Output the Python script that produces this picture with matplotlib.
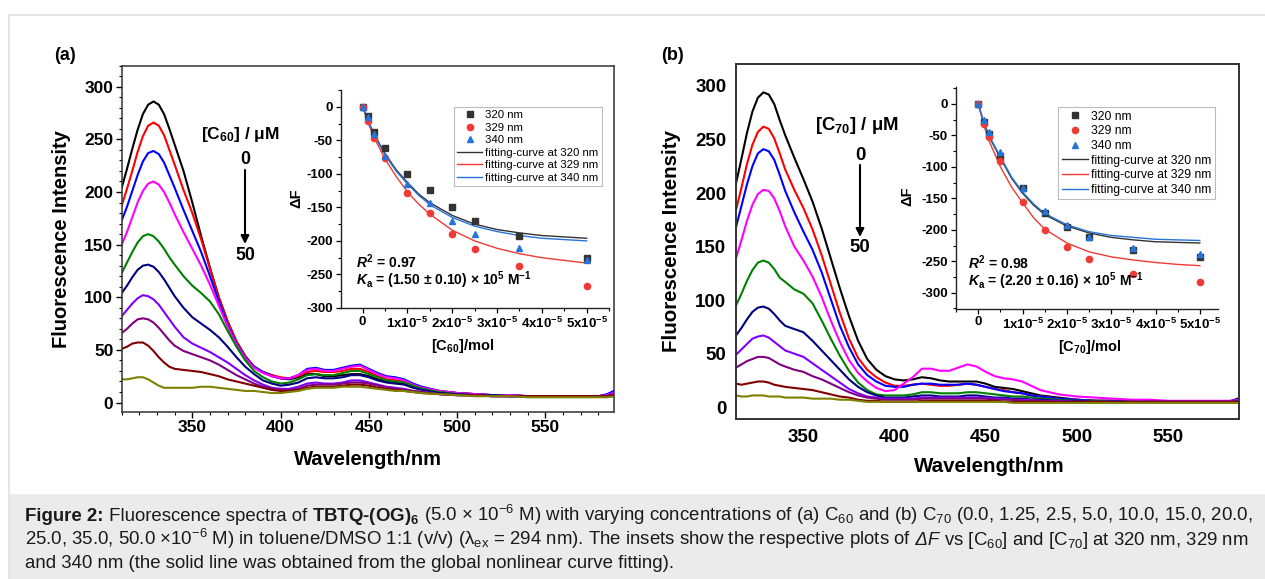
import matplotlib
matplotlib.use("Agg")
import matplotlib.pyplot as plt
from matplotlib.ticker import MultipleLocator
from matplotlib.patches import Rectangle
from matplotlib.lines import Line2D

plt.rcParams['font.family'] = ['Liberation Sans', 'DejaVu Sans']
plt.rcParams['axes.unicode_minus'] = False
plt.rcParams['mathtext.fontset'] = 'custom'
plt.rcParams['mathtext.rm'] = 'Liberation Sans:bold'
plt.rcParams['mathtext.bf'] = 'Liberation Sans:bold'
plt.rcParams['mathtext.it'] = 'Liberation Sans:italic:bold'

# ---------------- data ----------------
wavelength = [310, 313, 316, 319, 322, 325, 328, 331, 334, 337, 340, 345, 350, 355, 360, 365,
              370, 375, 380, 385, 390, 395, 400, 405, 410, 415, 420, 425, 430, 435, 440, 445,
              450, 455, 460, 465, 470, 475, 480, 490, 500, 510, 520, 530, 540, 550, 560, 570,
              580, 585, 590]

concentration_labels = ['0', '1.25', '2.5', '5.0', '10.0', '15.0', '20.0', '25.0', '35.0', '50.0']
curve_colors = ['#000000', '#ff0000', '#0000ff', '#ff00ff', '#008000', '#000080',
                '#8000ff', '#800080', '#800000', '#808000']

c60_0 = [204, 222, 241, 259, 274, 283, 286, 283, 274, 260, 245, 220, 190, 158, 128, 100, 77, 58, 44, 34, 29, 26, 23, 22, 24, 27, 27, 25, 25, 26, 27, 27, 25, 22, 20, 19, 18, 15, 13, 10, 9, 8, 7, 7, 6, 6, 6, 6, 6, 7, 9]
c60_1 = [187, 203, 220, 238, 253, 263, 266, 263, 254, 240, 226, 202, 180, 155, 127, 100, 77, 58, 44, 34, 29, 26, 24, 23, 25, 29, 30, 29, 29, 30, 32, 32, 29, 25, 22, 21, 20, 17, 14, 11, 9, 8, 7, 7, 6, 6, 6, 6, 6, 7, 9]
c60_2 = [173, 186, 201, 216, 229, 237, 239, 236, 228, 216, 204, 183, 163, 143, 120, 96, 74, 56, 43, 34, 29, 25, 23, 23, 26, 32, 33, 31, 31, 33, 35, 36, 32, 28, 25, 24, 22, 18, 15, 11, 9, 8, 7, 7, 6, 6, 6, 6, 6, 8, 12]
c60_3 = [150, 162, 176, 190, 201, 208, 210, 207, 200, 190, 179, 162, 146, 130, 112, 92, 72, 55, 42, 33, 28, 25, 23, 23, 26, 31, 32, 30, 30, 32, 34, 35, 31, 27, 24, 23, 21, 17, 14, 11, 9, 8, 7, 7, 6, 6, 6, 6, 6, 7, 10]
c60_4 = [123, 133, 143, 152, 158, 160, 158, 153, 146, 138, 131, 120, 111, 104, 96, 84, 68, 53, 40, 30, 24, 20, 18, 19, 22, 26, 27, 26, 26, 28, 30, 30, 27, 24, 21, 20, 19, 16, 13, 10, 8, 7, 7, 6, 6, 6, 6, 6, 6, 6, 8]
c60_5 = [104, 111, 119, 126, 130, 131, 129, 124, 117, 109, 101, 90, 81, 75, 69, 62, 53, 43, 34, 27, 21, 18, 16, 17, 19, 23, 24, 23, 23, 24, 26, 26, 24, 21, 19, 18, 17, 14, 12, 9, 8, 7, 7, 6, 6, 6, 6, 6, 6, 6, 8]
c60_6 = [82, 88, 94, 99, 102, 101, 98, 93, 86, 79, 72, 62, 56, 52, 48, 43, 38, 32, 26, 21, 17, 14, 13, 13, 15, 18, 19, 18, 18, 19, 21, 21, 19, 17, 15, 14, 13, 11, 10, 8, 7, 7, 6, 6, 6, 6, 6, 6, 6, 6, 7]
c60_7 = [66, 70, 75, 79, 80, 79, 76, 71, 65, 59, 54, 49, 46, 43, 40, 36, 31, 26, 22, 18, 15, 13, 12, 12, 13, 16, 17, 17, 17, 18, 19, 19, 18, 16, 14, 13, 12, 11, 10, 8, 7, 7, 6, 6, 6, 6, 6, 6, 6, 6, 7]
c60_8 = [51, 53, 56, 57, 57, 54, 49, 43, 38, 34, 32, 31, 30, 29, 27, 25, 22, 20, 18, 16, 14, 12, 11, 11, 12, 14, 15, 15, 15, 16, 17, 17, 16, 14, 13, 12, 11, 10, 9, 8, 7, 7, 6, 6, 6, 6, 6, 6, 6, 6, 7]
c60_9 = [22, 22, 23, 24, 24, 22, 19, 16, 14, 14, 14, 14, 14, 15, 15, 14, 13, 12, 11, 11, 10, 9, 9, 10, 11, 13, 14, 14, 14, 15, 15, 15, 14, 13, 12, 11, 11, 10, 9, 8, 7, 6, 6, 6, 5, 5, 5, 5, 5, 5, 6]

c70_0 = [200, 209, 232, 256, 276, 289, 294, 292, 283, 268, 254, 233, 213, 192, 167, 139, 111, 85, 62, 45, 35, 29, 26, 25, 26, 28, 27, 25, 24, 24, 24, 24, 22, 19, 18, 17, 15, 13, 11, 9, 7, 6, 6, 5, 5, 5, 5, 5, 5, 6, 9]
c70_1 = [178, 184, 205, 227, 245, 257, 262, 260, 251, 237, 222, 203, 186, 166, 142, 115, 88, 64, 46, 35, 28, 23, 20, 20, 21, 22, 21, 20, 20, 21, 22, 21, 19, 17, 16, 14, 13, 11, 10, 8, 7, 6, 6, 5, 5, 5, 5, 5, 5, 5, 7]
c70_2 = [162, 168, 188, 208, 225, 237, 241, 239, 231, 217, 202, 182, 164, 147, 126, 101, 76, 56, 40, 30, 24, 20, 19, 19, 21, 22, 22, 21, 21, 21, 22, 21, 19, 17, 15, 14, 13, 11, 10, 8, 7, 6, 6, 5, 5, 5, 5, 5, 5, 6, 8]
c70_3 = [133, 139, 156, 174, 189, 199, 203, 202, 195, 183, 169, 150, 137, 122, 103, 81, 61, 44, 32, 24, 18, 15, 16, 22, 28, 36, 36, 34, 34, 37, 40, 38, 33, 29, 27, 26, 24, 20, 16, 12, 10, 9, 8, 7, 7, 6, 6, 6, 6, 6, 7]
c70_4 = [90, 95, 106, 118, 128, 135, 137, 135, 129, 121, 117, 110, 106, 97, 81, 64, 48, 34, 23, 16, 12, 11, 11, 11, 12, 14, 14, 13, 13, 13, 14, 14, 13, 12, 11, 10, 10, 9, 8, 7, 6, 6, 5, 5, 5, 5, 5, 5, 5, 5, 6]
c70_5 = [64, 67, 74, 82, 89, 93, 94, 92, 87, 81, 76, 73, 70, 62, 53, 44, 35, 26, 19, 14, 11, 9, 9, 9, 10, 11, 11, 10, 10, 10, 11, 11, 10, 9, 9, 8, 8, 7, 7, 6, 6, 5, 5, 5, 5, 5, 5, 5, 5, 5, 6]
c70_6 = [47, 49, 54, 59, 64, 66, 67, 65, 61, 57, 53, 50, 47, 41, 35, 29, 23, 17, 13, 10, 9, 8, 8, 8, 8, 9, 9, 9, 9, 9, 9, 9, 9, 8, 8, 7, 7, 7, 6, 6, 5, 5, 5, 5, 5, 5, 5, 5, 5, 5, 6]
c70_7 = [36, 37, 40, 43, 45, 47, 47, 46, 43, 40, 38, 35, 33, 29, 26, 22, 18, 14, 11, 9, 8, 7, 7, 7, 7, 8, 8, 8, 8, 8, 8, 8, 8, 7, 7, 7, 6, 6, 6, 5, 5, 5, 5, 5, 5, 5, 5, 5, 5, 5, 6]
c70_8 = [22, 22, 21, 22, 23, 24, 24, 23, 21, 20, 19, 18, 17, 16, 14, 12, 10, 9, 7, 6, 6, 5, 5, 5, 5, 6, 6, 6, 6, 6, 6, 6, 6, 6, 5, 5, 5, 5, 5, 5, 5, 5, 5, 5, 5, 5, 5, 5, 5, 5, 5]
c70_9 = [11, 11, 10, 10, 11, 11, 11, 10, 10, 10, 9, 9, 9, 8, 8, 8, 7, 7, 6, 5, 5, 5, 5, 5, 5, 5, 5, 5, 5, 5, 5, 5, 5, 5, 5, 4, 4, 4, 4, 4, 4, 4, 4, 4, 4, 4, 4, 4, 4, 4, 4]

spectra_c60 = [c60_0, c60_1, c60_2, c60_3, c60_4, c60_5, c60_6, c60_7, c60_8, c60_9]
spectra_c70 = [c70_0, c70_1, c70_2, c70_3, c70_4, c70_5, c70_6, c70_7, c70_8, c70_9]

# titration (insets)
conc_mol = [0, 1.25e-6, 2.5e-6, 5e-6, 1e-5, 1.5e-5, 2e-5, 2.5e-5, 3.5e-5, 5e-5]
dF_c60_320 = [0, -14, -38, -61, -100, -124, -150, -171, -192, -225]
dF_c60_329 = [0, -21, -46, -77, -128, -158, -190, -212, -238, -267]
dF_c60_340 = [0, -15, -40, -73, -115, -144, -171, -190, -210, -229]
dF_c70_320 = [0, -28, -47, -83, -134, -173, -195, -212, -232, -244]
dF_c70_329 = [0, -32, -52, -90, -156, -200, -227, -247, -271, -283]
dF_c70_340 = [0, -25, -44, -76, -133, -170, -193, -211, -229, -238]

fit_conc = [0, 1.25e-6, 2.5e-6, 5e-6, 7.5e-6, 1e-5, 1.25e-5, 1.5e-5, 2e-5, 2.5e-5, 3e-5,
            3.5e-5, 4e-5, 4.5e-5, 5e-5]
fit_c60_320 = [0, -21, -40, -70, -94, -113, -130, -143, -162, -175, -183, -188, -192, -194, -196]
fit_c60_329 = [0, -24, -45, -78, -104, -127, -145, -160, -184, -200, -211, -219, -225, -229, -233]
fit_c60_340 = [0, -22, -41, -72, -96, -115, -132, -146, -165, -178, -186, -192, -196, -198, -200]
fit_c70_320 = [0, -30, -53, -86, -118, -142, -161, -176, -194, -205, -212, -216, -219, -220, -221]
fit_c70_329 = [0, -34, -60, -100, -132, -157, -181, -199, -221, -235, -243, -248, -252, -255, -257]
fit_c70_340 = [0, -29, -51, -84, -116, -140, -159, -174, -192, -203, -209, -212, -215, -216, -217]

main_xticks = [350, 400, 450, 500, 550]
main_xticklabels = ['350', '400', '450', '500', '550']
main_yticks = [0, 50, 100, 150, 200, 250, 300]
main_yticklabels = ['0', '50', '100', '150', '200', '250', '300']
inset_xticks = [0, 1e-5, 2e-5, 3e-5, 4e-5, 5e-5]
inset_xticklabels = ['0'] + ['%dx10$^{\\mathregular{-5}}$' % k for k in range(1, 6)]
inset_yticks = [0, -50, -100, -150, -200, -250, -300]
inset_yticklabels = ['0', '-50', '-100', '-150', '-200', '-250', '-300']
series_labels = ['320 nm', '329 nm', '340 nm']
fit_labels = ['fitting-curve at 320 nm', 'fitting-curve at 329 nm', 'fitting-curve at 340 nm']
marker_colors = ['#333333', '#ee3b36', '#2673d9']
fit_colors = ['#333333', '#ee3b36', '#2673d9']

# ---------------- figure ----------------
W, H = 1265, 579
fig = plt.figure(figsize=(W / 100, H / 100), dpi=100)


def fx(x):
    return x / W


def fy(y):
    return 1 - y / H


def box(l, t, r, b):
    return [fx(l), fy(b), (r - l) / W, (b - t) / H]


# page frame and caption band
fig.add_artist(Line2D([fx(9), 1.0], [fy(15), fy(15)], color='#e4e4e4', lw=1.5))
fig.add_artist(Line2D([fx(9), fx(9)], [fy(15), 0], color='#e4e4e4', lw=1.5))
fig.add_artist(Rectangle((fx(9), 0), 1 - fx(9), fy(494), color='#ebebeb', lw=0))

axA = fig.add_axes(box(121.7, 65.7, 614.3, 412))
axB = fig.add_axes(box(736, 64, 1239, 419))
insA = fig.add_axes(box(340.7, 90, 609, 308))
insB = fig.add_axes(box(955.7, 86.7, 1218, 308.7))


def main_panel(ax, spectra, xlim, ylim, ticksize, ticks_visible):
    for ys, col in zip(spectra, curve_colors):
        ax.plot(wavelength, ys, color=col, lw=1.5, solid_joinstyle='round')
    ax.set_xlim(*xlim)
    ax.set_ylim(*ylim)
    ax.set_xticks(main_xticks, main_xticklabels, fontweight='bold', fontsize=ticksize)
    ax.set_yticks(main_yticks, main_yticklabels, fontweight='bold', fontsize=ticksize)
    for s in ax.spines.values():
        s.set_color('#333333')
    if ticks_visible:
        ax.xaxis.set_minor_locator(MultipleLocator(10))
        ax.yaxis.set_minor_locator(MultipleLocator(10))
        ax.tick_params(which='major', direction='out', length=4, width=1, pad=2,
                       top=False, right=False)
        ax.tick_params(which='minor', direction='out', length=2.5, width=0.8,
                       top=False, right=False)
        for s in ax.spines.values():
            s.set_linewidth(1.1)
    else:
        ax.tick_params(which='both', length=0, pad=7)
        for s in ax.spines.values():
            s.set_linewidth(1.4)


main_panel(axA, spectra_c60, (310, 589), (-9, 320), 12.5, True)
main_panel(axB, spectra_c70, (313, 589), (-11, 320.5), 13.5, False)

axA.set_ylabel('Fluorescence Intensity', fontsize=14.5, fontweight='bold')
axA.yaxis.set_label_coords(-0.103, 0.5)
axA.set_xlabel('Wavelength/nm', fontsize=14.5, fontweight='bold')
axA.xaxis.set_label_coords(0.5, -0.11)
axB.set_ylabel('Fluorescence Intensity', fontsize=14.8, fontweight='bold')
axB.yaxis.set_label_coords(-0.109, 0.5)
axB.set_xlabel('Wavelength/nm', fontsize=14.8, fontweight='bold')
axB.xaxis.set_label_coords(0.503, -0.107)

fig.text(fx(65), fy(55), '(a)', fontsize=13, fontweight='bold', ha='center', va='center')
fig.text(fx(672), fy(55), '(b)', fontsize=13, fontweight='bold', ha='center', va='center')

# concentration annotations
fig.text(fx(240), fy(134), '[C$_{\\mathregular{60}}$] / μM', fontsize=12.5, fontweight='bold',
         ha='center', va='center')
fig.text(fx(245), fy(159), '0', fontsize=12.8, fontweight='bold', ha='center', va='center')
fig.text(fx(245), fy(256), '50', fontsize=12.8, fontweight='bold', ha='center', va='center')
axA.annotate('', xy=(fx(245), fy(244)), xytext=(fx(245), fy(170)), xycoords='figure fraction',
             arrowprops=dict(arrowstyle='-|>', color='black', lw=1.5, mutation_scale=12,
                             shrinkA=0, shrinkB=0))
fig.text(fx(857), fy(126), '[C$_{\\mathregular{70}}$] / μM', fontsize=13.3, fontweight='bold',
         ha='center', va='center')
fig.text(fx(860), fy(155), '0', fontsize=13.4, fontweight='bold', ha='center', va='center')
fig.text(fx(860), fy(247), '50', fontsize=13.4, fontweight='bold', ha='center', va='center')
axB.annotate('', xy=(fx(860), fy(237)), xytext=(fx(860), fy(165)), xycoords='figure fraction',
             arrowprops=dict(arrowstyle='-|>', color='black', lw=1.5, mutation_scale=12,
                             shrinkA=0, shrinkB=0))


def inset(ax, pts, fits, xlim, ylim, gname, r2, ka, leg_anchor, leg_fs, ylab_x, xlab_xy,
          txt_x, r2_y, ka_y):
    markers = ['s', 'o', '^']
    for ys, m, col, lab in zip(pts, markers, marker_colors, series_labels):
        ax.plot(conc_mol, ys, ls='none', marker=m, ms=4.5, color=col, mec=col, label=lab,
                zorder=3)
    for ys, col, lab in zip(fits, fit_colors, fit_labels):
        ax.plot(fit_conc, ys, color=col, lw=1.0, label=lab, zorder=2)
    ax.set_xlim(*xlim)
    ax.set_ylim(*ylim)
    ax.patch.set_alpha(0)
    ax.spines['top'].set_visible(False)
    ax.spines['right'].set_visible(False)
    for s in ('left', 'bottom'):
        ax.spines[s].set_color('#222222')
        ax.spines[s].set_linewidth(1.0)
    ax.set_xticks(inset_xticks, inset_xticklabels, fontweight='bold', fontsize=9.5)
    ax.set_yticks(inset_yticks, inset_yticklabels, fontweight='bold', fontsize=9.5)
    ax.xaxis.set_minor_locator(MultipleLocator(5e-6))
    ax.yaxis.set_minor_locator(MultipleLocator(25))
    ax.tick_params(which='major', direction='out', length=3.5, width=0.9, pad=2)
    ax.tick_params(which='minor', direction='out', length=2, width=0.8)
    ax.set_ylabel('ΔF', fontsize=10.5, fontweight='bold')
    ax.yaxis.set_label_coords(ylab_x, 0.505)
    ax.set_xlabel(gname, fontsize=10.5, fontweight='bold')
    ax.xaxis.set_label_coords(*xlab_xy)
    ax.text(txt_x, r2_y, r2, transform=ax.transAxes, fontsize=10, fontweight='bold',
            ha='left', va='center')
    ax.text(txt_x, ka_y, ka, transform=ax.transAxes, fontsize=10, fontweight='bold',
            ha='left', va='center')
    leg = ax.legend(loc='upper left', bbox_to_anchor=leg_anchor, fontsize=leg_fs,
                    frameon=True, fancybox=False, edgecolor='#bbbbbb', framealpha=1,
                    borderaxespad=0, borderpad=0.3, labelspacing=0.22, handlelength=2.2,
                    handletextpad=0.25, markerscale=1.0)
    leg.get_frame().set_linewidth(0.8)


inset(insA, [dF_c60_320, dF_c60_329, dF_c60_340], [fit_c60_320, fit_c60_329, fit_c60_340],
      (-0.49e-5, 5.5e-5), (-300, 25), '[C$_{\\mathregular{60}}$]/mol',
      '$\\mathit{R}^{2}$ = 0.97',
      '$\\mathit{K}_{\\mathregular{a}}$ = (1.50 ± 0.10) × 10$^{\\mathregular{5}}$ M$^{\\mathregular{-1}}$',
      (0.422, 0.922), 8.2, -0.14, (0.456, -0.133), 0.057, 0.211, 0.128)
inset(insB, [dF_c70_320, dF_c70_329, dF_c70_340], [fit_c70_320, fit_c70_329, fit_c70_340],
      (-0.51e-5, 5.41e-5), (-325.4, 27.5), '[C$_{\\mathregular{70}}$]/mol',
      '$\\mathit{R}^{2}$ = 0.98',
      '$\\mathit{K}_{\\mathregular{a}}$ = (2.20 ± 0.16) × 10$^{\\mathregular{5}}$ M$^{\\mathregular{-1}}$',
      (0.39, 0.909), 8.7, -0.159, (0.512, -0.132), 0.047, 0.206, 0.122)

# ---------------- caption ----------------
cap_lines = [
    (521, [('Figure 2:', 'bold', 'normal'),
           (' Fluorescence spectra of ', 'normal', 'normal'),
           ('TBTQ-(OG)$_{\\mathregular{6}}$', 'bold', 'normal'),
           (' (5.0 × 10$^{\\mathregular{-6}}$ M) with varying concentrations of (a) C$_{\\mathregular{60}}$'
            ' and (b) C$_{\\mathregular{70}}$ (0.0, 1.25, 2.5, 5.0, 10.0, 15.0, 20.0,', 'normal', 'normal')]),
    (545, [('25.0, 35.0, 50.0 ×10$^{\\mathregular{-6}}$ M) in toluene/DMSO 1:1 (v/v) (λ$_{\\mathregular{ex}}$'
            ' = 294 nm). The insets show the respective plots of', 'normal', 'normal'),
           (' ΔF', 'normal', 'italic'),
           (' vs [C$_{\\mathregular{60}}$] and [C$_{\\mathregular{70}}$] at 320 nm, 329 nm', 'normal', 'normal')]),
    (568, [('and 340 nm (the solid line was obtained from the global nonlinear curve fitting).',
            'normal', 'normal')]),
]
renderer = fig.canvas.get_renderer()
for ybase, runs in cap_lines:
    x = 25.0
    for s, wt, st in runs:
        t = fig.text(fx(x), fy(ybase), s, fontsize=13.4, fontweight=wt, fontstyle=st,
                     color='#1a1a1a', ha='left', va='baseline')
        bb = t.get_window_extent(renderer)
        x = bb.x1

fig.savefig('out.png', dpi=100)
